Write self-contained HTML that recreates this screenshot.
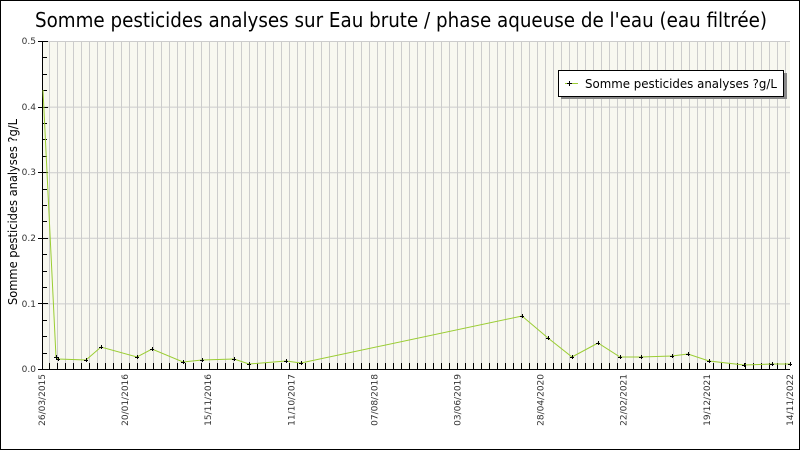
<!DOCTYPE html>
<html><head><meta charset="utf-8"><style>
html,body{margin:0;padding:0;background:#fff}
svg{display:block}
text{font-family:"DejaVu Sans","Liberation Sans",sans-serif}
</style></head><body>
<svg width="800" height="450" viewBox="0 0 800 450" xmlns="http://www.w3.org/2000/svg">
<rect x="0.5" y="0.5" width="799" height="449" fill="#fff" stroke="#000"/>
<text x="35" y="27" font-size="20" textLength="732" lengthAdjust="spacingAndGlyphs" fill="#000">Somme pesticides analyses sur Eau brute / phase aqueuse de l'eau (eau filtrée)</text>
<rect x="42" y="41" width="748" height="328" fill="#f8f8f0"/>
<g stroke="#cccccc" stroke-width="1" id="g"></g>
<g id="t" stroke="#000" stroke-width="1"></g>
<line x1="42.5" y1="41" x2="42.5" y2="369" stroke="#000"/>
<line x1="42" y1="369.5" x2="790" y2="369.5" stroke="#000"/>
<g font-size="9" fill="#333" text-anchor="end">
<text x="36" y="44">0.5</text><text x="36" y="110">0.4</text><text x="36" y="175">0.3</text><text x="36" y="241">0.2</text><text x="36" y="307">0.1</text><text x="36" y="372">0.0</text>
</g>
<text transform="translate(17,305) rotate(-90)" font-size="12" textLength="186" lengthAdjust="spacingAndGlyphs" fill="#000">Somme pesticides analyses ?g/L</text>
<g font-size="9" fill="#333" text-anchor="end" id="xl"></g>
<polyline fill="none" stroke="#9acd32" stroke-width="1" points="43,90 56,357 58,359 86,360 101,347 137,357 152,349 183,362 202,360 234,359 249,364 286,361 301,363 522,316 548,338 572,357 598,343 620,357 641,357 672,356 688,354 709,361 744,365 772,364 790,364"/>
<g id="m" stroke="#000" stroke-width="1"></g>
<rect x="561" y="73" width="226" height="26" fill="#888"/>
<rect x="558.5" y="70.5" width="225" height="26" fill="#fff" stroke="#000"/>
<line x1="565" y1="83.5" x2="578" y2="83.5" stroke="#9acd32"/>
<path d="M569.5 81v5M567 83.5h5" stroke="#000"/>
<text x="585" y="88" font-size="12" textLength="192" lengthAdjust="spacingAndGlyphs" fill="#000">Somme pesticides analyses ?g/L</text>
<script>
var ns="http://www.w3.org/2000/svg",g=document.getElementById('g'),t=document.getElementById('t');
function L(p,a){var e=document.createElementNS(ns,'line');for(var k in a)e.setAttribute(k,a[k]);p.appendChild(e);}
for(var k=1;k<=93;k++){var x=41.5+8*k;if(x<790){L(g,{x1:x,y1:41,x2:x,y2:369});L(t,{x1:x,y1:363,x2:x,y2:369});}}
for(var i=1;i<=5;i++){var y=369-65.6*i+0.5;L(g,{x1:42,y1:y,x2:790,y2:y});}
for(var i=1;i<20;i++){var y=Math.round(369-16.4*i)+0.5;L(t,{x1:42,y1:y,x2:47,y2:y});}
for(var i=0;i<=5;i++){var y=Math.round(369-65.6*i)+0.5;L(t,{x1:38,y1:y,x2:48,y2:y});}
var labs=["26/03/2015","20/01/2016","15/11/2016","11/10/2017","07/08/2018","03/06/2019","28/04/2020","22/02/2021","19/12/2021","14/11/2022"],xl=document.getElementById('xl');
labs.forEach(function(s,i){var x=42+83.1*i+3;var e=document.createElementNS(ns,'text');e.setAttribute('transform','translate('+x+',374) rotate(-90)');e.textContent=s;xl.appendChild(e);});
var pts=[[56,357],[58,359],[86,360],[101,347],[137,357],[152,349],[183,362],[202,360],[234,359],[249,364],[286,361],[301,363],[522,316],[548,338],[572,357],[598,343],[620,357],[641,357],[672,356],[688,354],[709,361],[744,365],[772,364],[790,364]],m=document.getElementById('m');
pts.forEach(function(p){L(m,{x1:p[0]-2,y1:p[1]+0.5,x2:p[0]+2,y2:p[1]+0.5});L(m,{x1:p[0]+0.5,y1:p[1]-2,x2:p[0]+0.5,y2:p[1]+2});});
</script>
</svg>
</body></html>
